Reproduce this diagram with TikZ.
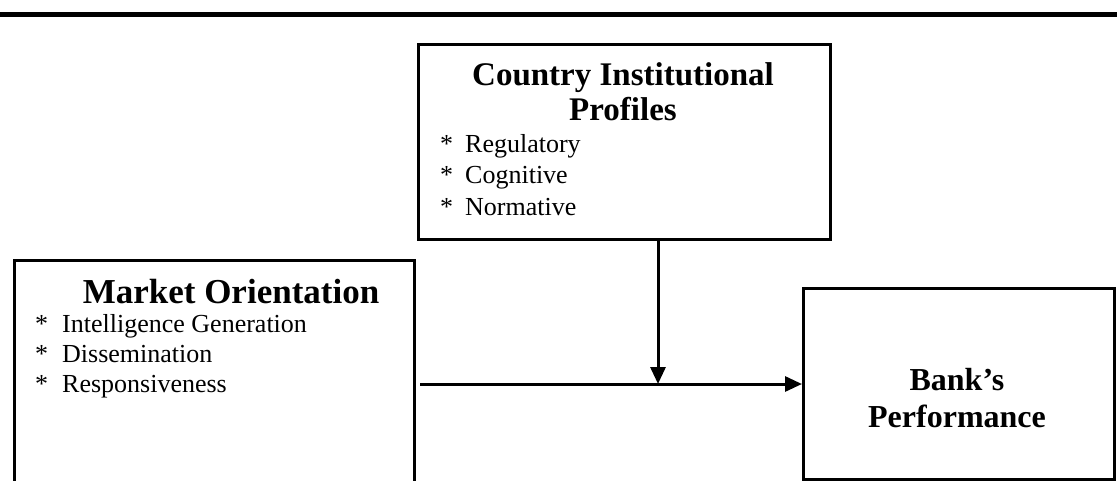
\documentclass[tikz,border=0pt]{standalone}
\usepackage{fontspec}
\setmainfont{Liberation Serif}
\usetikzlibrary{arrows.meta}
\begin{document}
\begin{tikzpicture}[x=1pt,y=-1pt,
  box/.style={draw, line width=3pt, rectangle, inner sep=0pt, anchor=north west},
  ttl/.style={font=\fontsize{33}{37}\selectfont\bfseries, anchor=base, inner sep=0pt},
  itm/.style={font=\fontsize{26}{30}\selectfont, anchor=base west, inner sep=0pt},
  link/.style={line width=3pt, -{Triangle[length=17pt,width=15pt]}}]
\useasboundingbox (0,0) rectangle (1117,480);
\clip (0,0) rectangle (1117,480);

% heavy rule across the top
\draw[line width=5pt] (0,14.5) -- (1117,14.5);

% boxes
\node[box, minimum width=412pt, minimum height=195pt] (cip) at (417,43) {};
\node[box, minimum width=400pt, minimum height=240pt] (mo) at (13,259) {};
\node[box, minimum width=311pt, minimum height=191pt] (bp) at (802,287) {};

% Country Institutional Profiles
\node[ttl] (cipa) at (623,85) {Country Institutional};
\node[ttl] (cipb) at (623,120) {Profiles};
\node[itm] (cs1) at (440,152) {*};
\node[itm] (ci1) at (465,152) {Regulatory};
\node[itm] (cs2) at (440,183) {*};
\node[itm] (ci2) at (465,183) {Cognitive};
\node[itm] (cs3) at (440,215) {*};
\node[itm] (ci3) at (465,215) {Normative};

% Market Orientation
\node[ttl, font=\fontsize{35}{39}\selectfont\bfseries] (mot) at (231,303) {Market Orientation};
\node[itm] (ms1) at (35,332) {*};
\node[itm] (mi1) at (62,332) {Intelligence Generation};
\node[itm] (ms2) at (35,362) {*};
\node[itm] (mi2) at (62,362) {Dissemination};
\node[itm] (ms3) at (35,392) {*};
\node[itm] (mi3) at (62,392) {Responsiveness};

% Bank's Performance
\node[ttl, font=\fontsize{32}{36}\selectfont\bfseries] (bpa) at (957,390) {Bank’s};
\node[ttl, font=\fontsize{32}{36}\selectfont\bfseries] (bpb) at (957,427) {Performance};

% connectors
\coordinate (j) at (658,384);
\draw[link, shorten <=4pt] (mo.east |- j) -- (bp.west |- j);
\draw[link] (cip.south -| j) -- (j);
\end{tikzpicture}
\end{document}
